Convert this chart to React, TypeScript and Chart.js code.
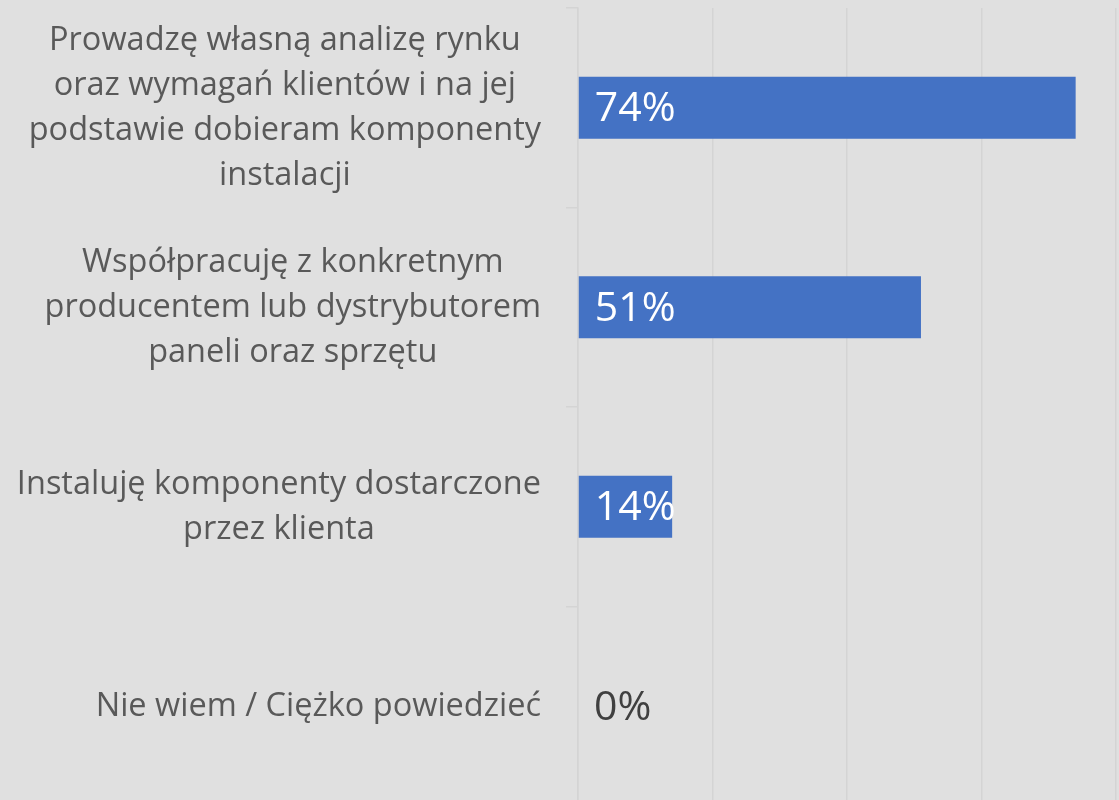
import React, { useEffect, useRef } from "react";
import { Chart, registerables } from "chart.js";

Chart.register(...registerables);

const categories: string[][] = [
  ["Prowadzę własną analizę rynku", "oraz wymagań klientów i na jej", "podstawie dobieram komponenty", "instalacji"],
  ["Współpracuję z konkretnym", "producentem lub dystrybutorem", "paneli oraz sprzętu"],
  ["Instaluję komponenty dostarczone", "przez klienta"],
  ["Nie wiem / Ciężko powiedzieć"],
];
const values: number[] = [74, 51, 14, 0];
const xTicks: number[] = [0, 20, 40, 60, 80];

const FONT = '"Open Sans", "Noto Sans", sans-serif';
const BG = "#e0e0e0";
const BAR = "#4472c4";
const LABEL_COLOR = "#595959";
const GRID = "#d4d4d4";

const labelPlugin = {
  id: "catLabels",
  afterDraw(chart: any) {
    const ctx = chart.ctx as CanvasRenderingContext2D;
    const yScale = chart.scales.y;
    ctx.save();
    ctx.font = `32.5px ${FONT}`;
    ctx.fillStyle = LABEL_COLOR;
    ctx.textAlign = "center";
    ctx.textBaseline = "middle";
    const right = 541;
    const lh = 45;
    categories.forEach((lines, i) => {
      const cy = yScale.getPixelForValue(i);
      const widest = Math.max(...lines.map((l) => ctx.measureText(l).width));
      const cx = right - widest / 2;
      const startY = cy - ((lines.length - 1) * lh) / 2;
      lines.forEach((l, j) => ctx.fillText(l, cx, startY + j * lh));
    });
    ctx.restore();
  },
};

const valuePlugin = {
  id: "valueLabels",
  afterDatasetsDraw(chart: any) {
    const ctx = chart.ctx as CanvasRenderingContext2D;
    const meta = chart.getDatasetMeta(0);
    ctx.save();
    ctx.font = `41px ${FONT}`;
    ctx.textAlign = "left";
    ctx.textBaseline = "middle";
    meta.data.forEach((bar: any, i: number) => {
      const v = values[i];
      ctx.fillStyle = v > 0 ? "#ffffff" : "#404040";
      ctx.fillText(`${v}%`, bar.base + 16, bar.y + 2);
    });
    ctx.restore();
  },
};

export default function App() {
  const ref = useRef<HTMLCanvasElement | null>(null);
  useEffect(() => {
    if (!ref.current) return;
    const chart = new Chart(ref.current, {
      type: "bar",
      data: {
        labels: categories.map((c) => c.join(" ")),
        datasets: [
          {
            data: values,
            backgroundColor: BAR,
            borderWidth: 0,
            barPercentage: 0.62,
            categoryPercentage: 0.5,
          },
        ],
      },
      options: {
        indexAxis: "y",
        animation: false,
        responsive: false,
        maintainAspectRatio: false,
        layout: { padding: { top: 8, right: 3, bottom: 4, left: 0 } },
        plugins: { legend: { display: false }, tooltip: { enabled: false } },
        scales: {
          x: {
            min: xTicks[0],
            max: xTicks[xTicks.length - 1],
            afterBuildTicks(scale: any) {
              scale.ticks = xTicks.map((v) => ({ value: v }));
            },
            ticks: { display: false },
            grid: { color: GRID, lineWidth: 1.5, drawTicks: false },
            border: { display: false },
            afterFit(scale: any) {
              scale.height = 0;
            },
          },
          y: {
            ticks: { display: false },
            grid: {
              drawOnChartArea: false,
              drawTicks: true,
              tickLength: 12,
              color: GRID,
              lineWidth: 1.5,
              offset: true,
            },
            border: { display: true, color: GRID, width: 1.5 },
            afterFit(scale: any) {
              scale.width = 578;
            },
          },
        },
      },
      plugins: [labelPlugin, valuePlugin],
    });
    return () => chart.destroy();
  }, []);

  return (
    <div
      style={{
        position: "fixed",
        left: 0,
        top: 0,
        width: 1119,
        height: 810,
        background: BG,
        overflow: "hidden",
      }}
    >
      <canvas ref={ref} width={1119} height={810} style={{ display: "block" }} />
    </div>
  );
}
